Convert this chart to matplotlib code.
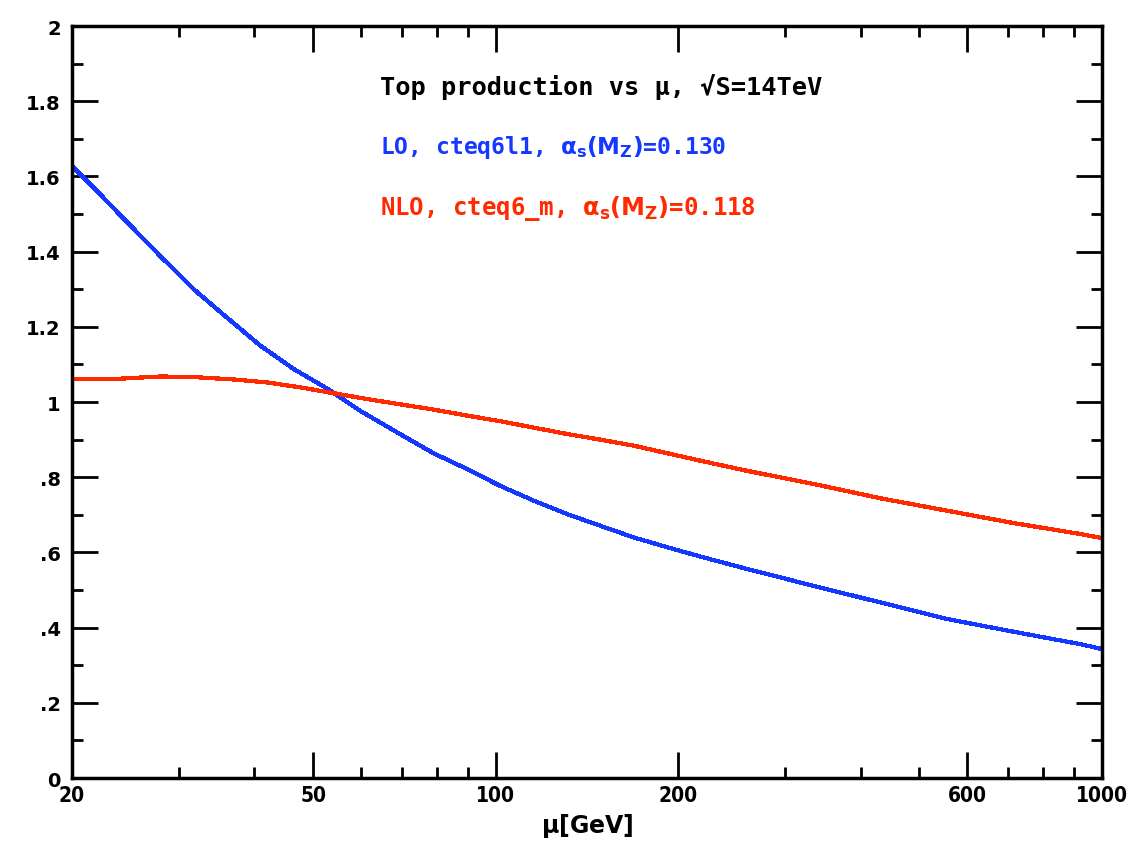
import numpy as np
import matplotlib
matplotlib.use("Agg")
import matplotlib.pyplot as plt

# LO curve (blue)
mu_lo = [20, 21.7, 24.6, 27.9, 31.7, 36.0, 40.9, 46.4, 52.7, 59.7, 69.5, 78.9, 89.6,
         101.7, 115.4, 131.1, 148.7, 168.8, 191.6, 217.5, 259.7, 334.5, 430.9, 555, 715, 921, 1000]
ratio_lo = [1.628, 1.571, 1.480, 1.390, 1.301, 1.225, 1.150, 1.088, 1.036, 0.977, 0.915, 0.864, 0.822,
            0.777, 0.738, 0.702, 0.671, 0.640, 0.614, 0.589, 0.556, 0.511, 0.467, 0.423, 0.389, 0.356, 0.343]

# NLO curve (red)
mu_nlo = [20, 24, 28, 32, 37, 42, 47.6, 53.8, 61.3, 69.5, 78.9, 89.6, 101.7, 115.4, 131.1,
          148.7, 168.8, 191.6, 217.5, 259.7, 334.5, 430.9, 555, 715, 921, 1000]
ratio_nlo = [1.061, 1.062, 1.068, 1.066, 1.060, 1.052, 1.039, 1.024, 1.008, 0.994, 0.980, 0.964, 0.949,
             0.932, 0.915, 0.900, 0.884, 0.864, 0.844, 0.817, 0.782, 0.744, 0.711, 0.678, 0.649, 0.638]

yticks = [0, 0.2, 0.4, 0.6, 0.8, 1, 1.2, 1.4, 1.6, 1.8, 2]
ytick_labels = ["0", ".2", ".4", ".6", ".8", "1", "1.2", "1.4", "1.6", "1.8", "2"]
xticks = [20, 50, 100, 200, 600, 1000]
xminor = [30, 40, 60, 70, 80, 90, 300, 400, 500, 700, 800, 900]

blue = "#1438ff"
red = "#ff2a00"

plt.rcParams["mathtext.default"] = "bf"

fig = plt.figure(figsize=(11.46, 8.45), dpi=100)
ax = fig.add_axes([0.0628, 0.0781, 0.8988, 0.8899])

ax.plot(mu_lo, ratio_lo, color=blue, lw=2.3, antialiased=False)
ax.plot(mu_nlo, ratio_nlo, color=red, lw=2.3, antialiased=False)

ax.set_xscale("log")
ax.set_xlim(20, 1000)
ax.set_ylim(0, 2)

ax.set_xticks(xticks)
ax.set_xticklabels([str(t) for t in xticks], fontsize=15, fontweight="bold", fontstretch="condensed")
ax.set_xticks(xminor, minor=True)
ax.set_xticklabels([], minor=True)
ax.set_yticks(yticks)
ax.set_yticklabels(ytick_labels, fontsize=14, fontweight="bold")
ax.set_yticks(np.arange(0.1, 2.0, 0.2), minor=True)

ax.tick_params(which="both", direction="in", top=True, right=True, width=2)
ax.tick_params(which="major", length=19)
ax.tick_params(which="minor", length=8)
ax.tick_params(axis="x", pad=5)
ax.tick_params(axis="y", pad=8)
for s in ax.spines.values():
    s.set_linewidth(2.5)

ax.set_xlabel(r"$\mu$[GeV]", fontsize=17, fontweight="bold", labelpad=4)

ax.text(0.299, 0.920, "Top production vs \u03bc, \u221aS=14TeV", transform=ax.transAxes,
        fontsize=18.3, fontweight="bold", family="DejaVu Sans Mono", va="center")
ax.text(0.299, 0.840, r"LO, cteq6l1, $\alpha_s(M_Z)$=0.130", transform=ax.transAxes,
        fontsize=16.6, fontweight="bold", family="DejaVu Sans Mono", color=blue, va="center")
ax.text(0.299, 0.759, r"NLO, cteq6_m, $\alpha_s(M_Z)$=0.118", transform=ax.transAxes,
        fontsize=17.3, fontweight="bold", family="DejaVu Sans Mono", color=red, va="center")

plt.savefig("out.png", dpi=100)
